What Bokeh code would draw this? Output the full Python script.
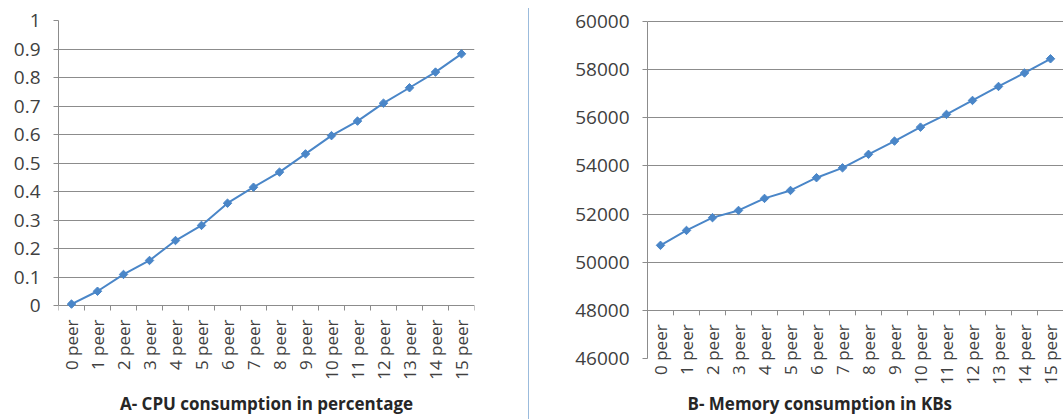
import math
from bokeh.plotting import figure
from bokeh.models import FixedTicker, Title, Div, Range1d
from bokeh.layouts import row
from bokeh.core.properties import value
from bokeh.embed import file_html
from bokeh.resources import INLINE

peers = ["0 peer", "1 peer", "2 peer", "3 peer", "4 peer", "5 peer", "6 peer", "7 peer",
         "8 peer", "9 peer", "10 peer", "11 peer", "12 peer", "13 peer", "14 peer", "15 peer"]
cpu = [0.005, 0.050, 0.109, 0.158, 0.228, 0.281, 0.359, 0.415,
       0.468, 0.532, 0.596, 0.647, 0.710, 0.764, 0.819, 0.883]
mem = [50700, 51320, 51850, 52150, 52650, 52980, 53510, 53920,
       54480, 55030, 55610, 56140, 56720, 57300, 57860, 58450]
cpu_ticks = [0, 0.1, 0.2, 0.3, 0.4, 0.5, 0.6, 0.7, 0.8, 0.9, 1]
cpu_tick_labels = ["0", "0.1", "0.2", "0.3", "0.4", "0.5", "0.6", "0.7", "0.8", "0.9", "1"]
cpu_axis_cross = 0
mem_ticks = [46000, 48000, 50000, 52000, 54000, 56000, 58000, 60000]
mem_tick_labels = ["46000", "48000", "50000", "52000", "54000", "56000", "58000", "60000"]
mem_axis_cross = 48000  # category axis crosses the value axis here
titles = ["A- CPU consumption in percentage", "B- Memory consumption in KBs"]

FONT = "Open Sans"
GRID = "#8c8c8c"
AXIS = "#8c8c8c"
TEXT = "#404040"
BLUE = "#4a86c8"

xs = list(range(len(peers)))
bounds = [i - 0.5 for i in range(len(peers) + 1)]


def build(width, x_end, y_start, y_end, yticks, ylabels, cross, ys, title, border_left,
          border_right, title_align, title_offset):
    p = figure(width=width, height=419, output_backend="svg", toolbar_location=None,
               x_range=Range1d(-0.5, x_end), y_range=Range1d(y_start, y_end),
               min_border_left=border_left, min_border_right=border_right,
               min_border_top=20, min_border_bottom=34)
    p.outline_line_color = None
    p.background_fill_color = "white"
    p.border_fill_color = "white"
    p.xgrid.visible = False
    p.xaxis.visible = False
    p.ygrid.ticker = FixedTicker(ticks=[t for t in yticks if t >= cross])
    p.ygrid.grid_line_color = GRID
    p.ygrid.grid_line_width = 1

    ya = p.yaxis[0]
    ya.ticker = FixedTicker(ticks=yticks)
    ya.bounds = (yticks[0], yticks[-1])
    ya.major_label_overrides = {t: l for t, l in zip(yticks, ylabels)}
    ya.axis_line_color = AXIS
    ya.major_tick_line_color = AXIS
    ya.major_tick_out = 5
    ya.major_tick_in = 0
    ya.minor_tick_line_color = None
    ya.major_label_text_font = FONT
    ya.major_label_text_font_size = "19px"
    ya.major_label_text_color = TEXT
    ya.major_label_standoff = 13

    # category axis drawn where it crosses the value axis
    p.ray(x=bounds, y=[cross] * len(bounds), length=5, angle=-math.pi / 2,
          length_units="screen", line_color=AXIS, line_width=1)
    p.text(x=xs, y=[cross] * len(xs), text=peers, angle=math.pi / 2,
           text_align="right", text_baseline="middle", y_offset=14,
           text_font=value(FONT), text_font_size="17px", text_color=TEXT)

    p.line(xs, ys, line_color=BLUE, line_width=2)
    p.scatter(xs, ys, marker="square", angle=math.pi / 4, size=6,
              fill_color=BLUE, line_color=BLUE)
    p.add_layout(Title(text=title, align=title_align, offset=title_offset, text_font=FONT,
                       text_font_size="17px", text_font_style="bold", text_color="#262626",
                       standoff=9), "below")
    return p


p1 = build(528, 15.5, -0.2807, 1.0, cpu_ticks, cpu_tick_labels, cpu_axis_cross, cpu,
           titles[0], 58, 54, "center", 0)
p2 = build(534, 15.5, 44878, 60040, mem_ticks, mem_tick_labels, mem_axis_cross, mem,
           titles[1], 118, 0, "left", 40)

divider = Div(width=1, height=411, margin=(8, 0, 0, 0),
              styles={"background-color": "#9bbbdc"})

layout = row(p1, divider, p2, spacing=0)
open("out.html", "w").write(file_html(layout, INLINE))
